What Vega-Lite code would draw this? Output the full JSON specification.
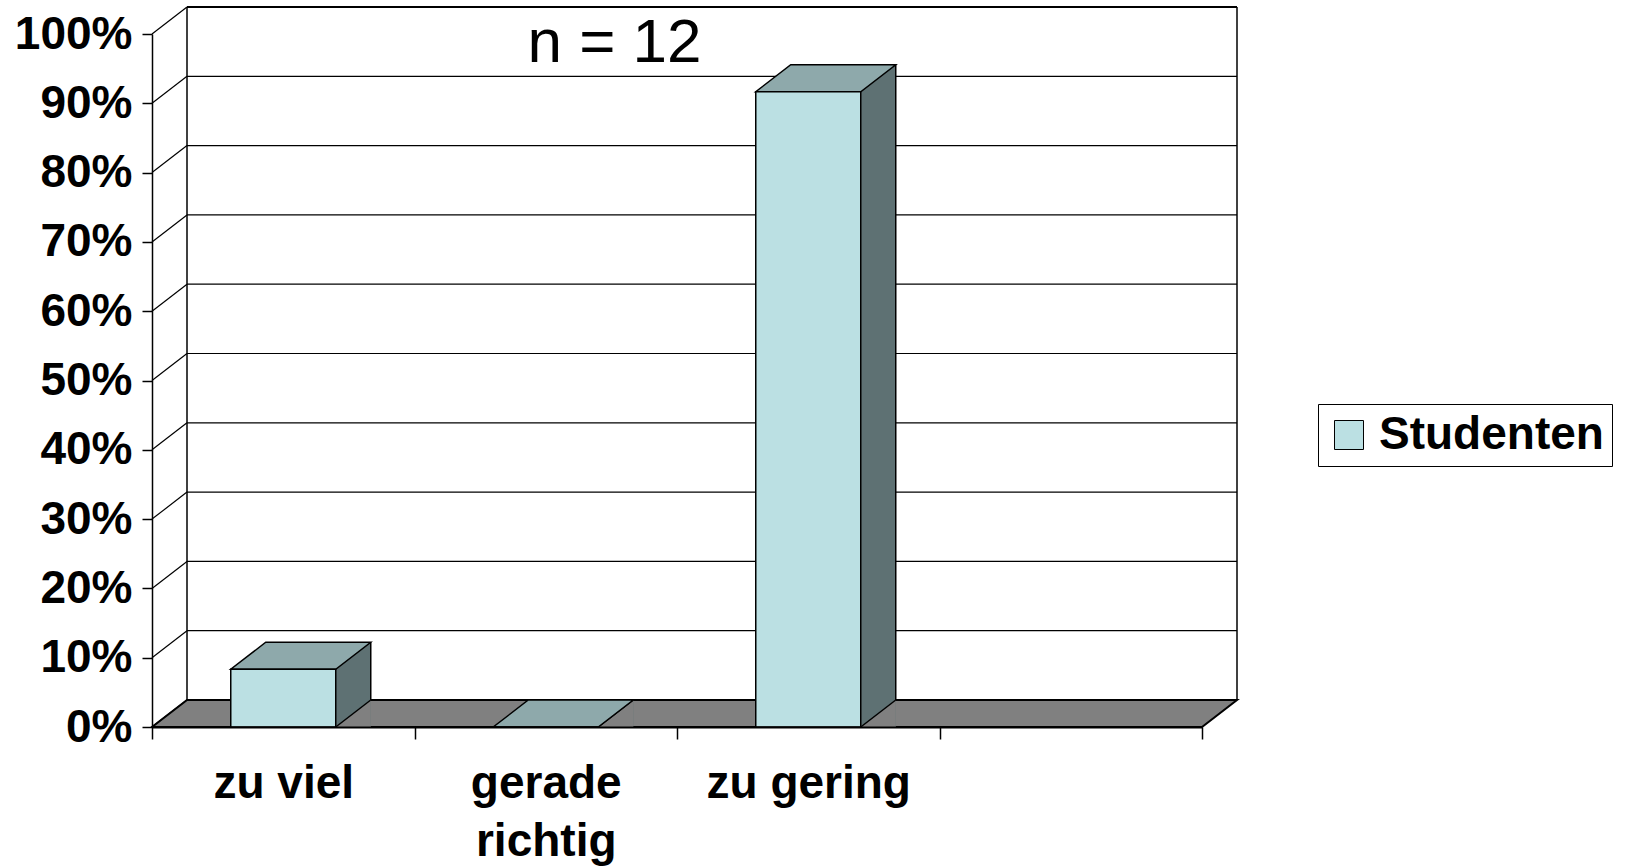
{
  "$schema": "https://vega.github.io/schema/vega-lite/v6.json",
  "width": 1050,
  "height": 693,
  "autosize": {"type": "none"},
  "padding": {"left": 152, "top": 34, "right": 423, "bottom": 140},
  "background": "white",
  "datasets": {
    "antworten": [
      {"Kategorie": "zu viel", "Anteil": 0.0833, "Gruppe": "Studenten"},
      {"Kategorie": "gerade richtig", "Anteil": 0, "Gruppe": "Studenten"},
      {"Kategorie": "zu gering", "Anteil": 0.9167, "Gruppe": "Studenten"}
    ],
    "skala": [{"v": 0}, {"v": 0.1}, {"v": 0.2}, {"v": 0.3}, {"v": 0.4}, {"v": 0.5}, {"v": 0.6}, {"v": 0.7}, {"v": 0.8}, {"v": 0.9}, {"v": 1}]
  },
  "layer": [
    {
      "data": {"name": "skala"},
      "encoding": {
        "y": {"field": "v", "type": "quantitative", "scale": {"domain": [0, 1], "range": [666, -27], "nice": false, "zero": false}, "axis": null}
      },
      "layer": [
        {
          "mark": {"type": "rule", "color": "black"},
          "encoding": {
            "x": {"datum": 0, "type": "quantitative", "scale": {"domain": [0, 1], "range": [35, 1085], "nice": false}, "axis": null},
            "x2": {"datum": 1},
            "strokeWidth": {"condition": {"test": "datum.v === 1", "value": 2}, "value": 1.2}
          }
        },
        {
          "transform": [{"filter": "datum.v === 0"}],
          "mark": {"type": "rule", "color": "black", "strokeWidth": 1.5},
          "encoding": {"x": {"datum": 0, "type": "quantitative"}, "y": {"datum": 0, "type": "quantitative"}, "y2": {"datum": 1}}
        },
        {
          "transform": [{"filter": "datum.v === 0"}],
          "mark": {"type": "rule", "color": "black", "strokeWidth": 1.5},
          "encoding": {"x": {"datum": 1, "type": "quantitative"}, "y": {"datum": 0, "type": "quantitative"}, "y2": {"datum": 1}}
        },
        {
          "mark": {"type": "point", "shape": "M 0 0 L -35 27", "size": 4, "filled": false, "stroke": "black", "strokeWidth": 1.2, "opacity": 1},
          "encoding": {"x": {"datum": 0, "type": "quantitative"}}
        }
      ]
    },
    {
      "data": {"name": "antworten"},
      "encoding": {
        "x": {"field": "Kategorie", "type": "nominal", "scale": {"type": "band", "domain": ["zu viel", "gerade richtig", "zu gering", ""], "paddingInner": 0, "paddingOuter": 0},
          "axis": {"orient": "bottom", "title": null, "tickBand": "extent", "tickSize": 12, "tickWidth": 1.5, "tickColor": "black", "domainColor": "black", "domainWidth": 2, "labelFont": "Liberation Sans", "labelFontSize": 46, "labelFontWeight": "bold", "labelColor": "black", "labelPadding": 22, "labelAngle": 0, "labelExpr": "datum.value === 'gerade richtig' ? ['gerade', 'richtig'] : datum.label", "labelLineHeight": 58, "labelOverlap": false, "labelBound": false, "labelLimit": 0, "zindex": 1}},
        "y": {"field": "Anteil", "type": "quantitative", "scale": {"domain": [0, 1], "nice": false},
          "axis": {"orient": "left", "grid": false, "values": [0, 0.1, 0.2, 0.3, 0.4, 0.5, 0.6, 0.7, 0.8, 0.9, 1], "format": ".0%", "labelFont": "Liberation Sans", "labelFontSize": 46, "labelFontWeight": "bold", "labelColor": "black", "tickColor": "black", "tickSize": 10, "tickWidth": 1.5, "domainColor": "black", "domainWidth": 1.5, "labelPadding": 10, "title": null, "labelOverlap": false, "labelBound": false, "labelFlush": false}}
      },
      "layer": [
        {
          "transform": [{"filter": "datum.Kategorie === 'zu viel'"}],
          "mark": {"type": "point", "shape": "M -131.25 0 L 918.75 0 L 953.75 -27 L -96.25 -27 Z", "size": 4, "filled": true, "fill": "#808080", "stroke": "black", "strokeWidth": 2, "opacity": 1},
          "encoding": {"y": {"datum": 0}}
        },
        {
          "mark": {"type": "bar", "width": 35, "xOffset": 70, "yOffset": -27, "fill": "#5E7173", "strokeWidth": 0},
          "encoding": {"y2": {"datum": 0}}
        },
        {
          "mark": {"type": "point", "shape": "M 52.5 0 L 87.5 0 L 87.5 -27 Z", "size": 4, "filled": true, "fill": "#808080", "strokeWidth": 0, "opacity": 1},
          "encoding": {"y": {"datum": 0}}
        },
        {
          "mark": {"type": "point", "shape": "M 52.5 0 L 87.5 -27", "size": 4, "filled": false, "stroke": "black", "strokeWidth": 1.5, "opacity": 1},
          "encoding": {"y": {"datum": 0}}
        },
        {
          "mark": {"type": "rule", "xOffset": 87.5, "yOffset": -27, "y2Offset": -27, "color": "black", "strokeWidth": 1.5},
          "encoding": {"y2": {"datum": 0}}
        },
        {
          "mark": {"type": "point", "shape": "M -52.5 0 L 52.5 0 L 87.5 -27 L -17.5 -27 Z", "size": 4, "filled": true, "fill": "#8EA9AB", "stroke": "black", "strokeWidth": 1.5, "opacity": 1}
        },
        {
          "mark": {"type": "bar", "width": {"band": 0.4}, "stroke": "black", "strokeWidth": 1.5},
          "encoding": {
            "y2": {"datum": 0},
            "color": {"field": "Gruppe", "type": "nominal", "scale": {"range": ["#BBE0E3"]},
              "legend": {"orient": "none", "legendX": 1166, "legendY": 370, "title": null, "strokeColor": "black", "fillColor": "white", "padding": 8, "labelFont": "Liberation Sans", "labelFontSize": 46, "labelFontWeight": "bold", "labelColor": "black", "symbolType": "square", "symbolSize": 841, "symbolStrokeColor": "black", "symbolStrokeWidth": 1, "symbolOpacity": 1, "labelOffset": 7, "labelLimit": 0, "cornerRadius": 0}}
          }
        },
        {
          "transform": [{"filter": "datum.Kategorie === 'gerade richtig'"}],
          "mark": {"type": "text", "text": "n = 12", "font": "Liberation Sans", "fontSize": 62, "fontWeight": "normal", "color": "black", "align": "center", "baseline": "alphabetic", "dx": 68.75, "dy": 28},
          "encoding": {"y": {"datum": 1}}
        }
      ]
    }
  ],
  "resolve": {"scale": {"x": "independent", "y": "independent"}, "axis": {"x": "independent", "y": "independent"}},
  "config": {"view": {"stroke": null}}
}
